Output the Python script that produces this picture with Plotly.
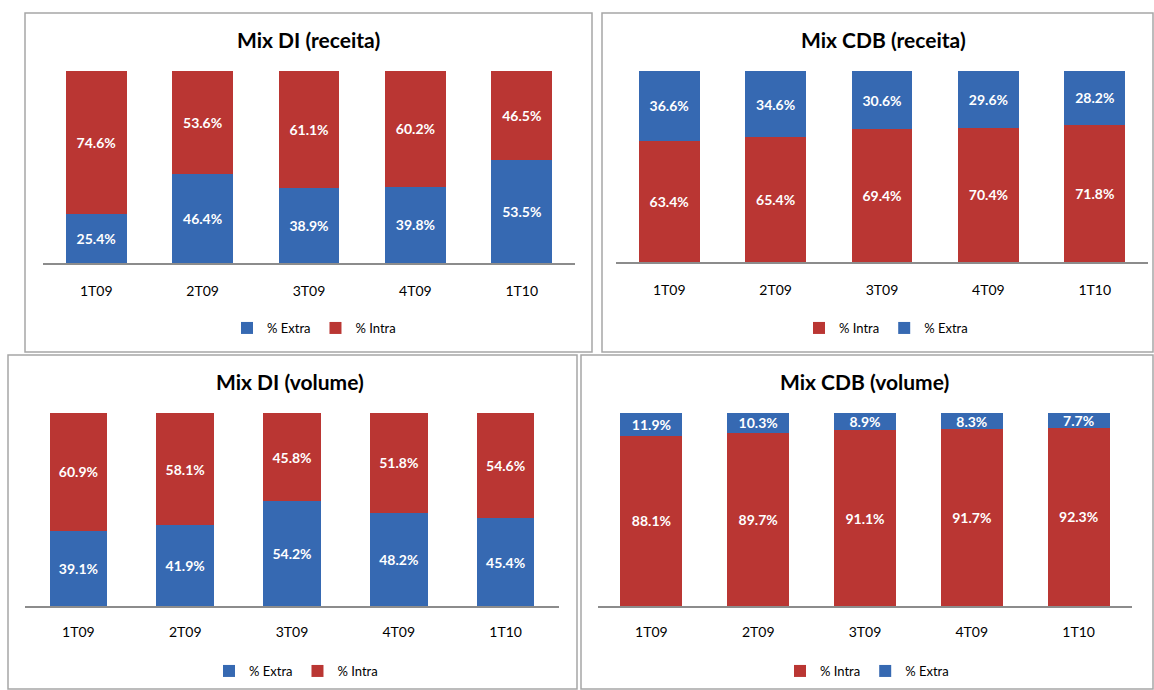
import plotly.graph_objects as go

W, H = 1154, 690

quarters = ["1T09", "2T09", "3T09", "4T09", "1T10"]

di_receita_extra = [25.4, 46.4, 38.9, 39.8, 53.5]
di_receita_intra = [74.6, 53.6, 61.1, 60.2, 46.5]

cdb_receita_intra = [63.4, 65.4, 69.4, 70.4, 71.8]
cdb_receita_extra = [36.6, 34.6, 30.6, 29.6, 28.2]

di_volume_extra = [39.1, 41.9, 54.2, 48.2, 45.4]
di_volume_intra = [60.9, 58.1, 45.8, 51.8, 54.6]

cdb_volume_intra = [88.1, 89.7, 91.1, 91.7, 92.3]
cdb_volume_extra = [11.9, 10.3, 8.9, 8.3, 7.7]

RED = "#BA3633"
BLUE = "#3669B2"
FONT = "Lato"

fig = go.Figure()

def px_x(x):
    return x / W

def px_y(y):
    return 1 - y / H

panels = [
    dict(title="Mix DI (receita)",
         series=[("% Extra", di_receita_extra, BLUE), ("% Intra", di_receita_intra, RED)],
         ax=(43, 575, 71, 263), tpos=(308, 39), lpos=(314, 328), border=(25, 13, 592, 352), w=0.57),
    dict(title="Mix CDB (receita)",
         series=[("% Intra", cdb_receita_intra, RED), ("% Extra", cdb_receita_extra, BLUE)],
         ax=(616, 1148, 71, 262), tpos=(883, 39), lpos=(886, 328), border=(602, 13, 1153, 352), w=0.57),
    dict(title="Mix DI (volume)",
         series=[("% Extra", di_volume_extra, BLUE), ("% Intra", di_volume_intra, RED)],
         ax=(25, 559, 413, 606), tpos=(290, 382), lpos=(296, 671), border=(8, 355, 577, 689), w=0.54),
    dict(title="Mix CDB (volume)",
         series=[("% Intra", cdb_volume_intra, RED), ("% Extra", cdb_volume_extra, BLUE)],
         ax=(598, 1132, 413, 606), tpos=(864, 382), lpos=(867, 671), border=(581, 355, 1153, 689), w=0.58),
]

layout_updates = {}
annotations = []
shapes = []

for i, p in enumerate(panels, start=1):
    xa = "x" if i == 1 else f"x{i}"
    ya = "y" if i == 1 else f"y{i}"
    lg = "legend" if i == 1 else f"legend{i}"
    for name, vals, color in p["series"]:
        fig.add_trace(go.Bar(
            x=quarters, y=vals, name=name, xaxis=xa, yaxis=ya, legend=lg,
            marker=dict(color=color, line=dict(width=0)),
            width=p["w"],
            texttemplate="%{y:.1f}%", textposition="inside",
            insidetextanchor="middle", constraintext="none",
            textfont=dict(family=FONT, size=14, color="white", weight="bold"),
            textangle=0,
        ))
    x0, x1, yt, yb = p["ax"]
    xkey = "xaxis" if i == 1 else f"xaxis{i}"
    ykey = "yaxis" if i == 1 else f"yaxis{i}"
    layout_updates[xkey] = dict(
        domain=[px_x(x0), px_x(x1)], anchor=ya, type="category",
        range=[-0.5, 4.5], showline=True, linecolor="#8C8C8C", linewidth=2,
        showgrid=False, ticks="", ticklabelstandoff=14 if i <= 2 else 12,
        tickfont=dict(family=FONT, size=14, color="#000000"), fixedrange=True,
    )
    layout_updates[ykey] = dict(
        domain=[px_y(yb), px_y(yt)], anchor=xa, range=[0, 100],
        visible=False, showgrid=False, zeroline=False, fixedrange=True,
    )
    lx, ly = p["lpos"]
    layout_updates[lg] = dict(
        orientation="h", x=px_x(lx), y=px_y(ly), xanchor="center", yanchor="middle",
        font=dict(family=FONT, size=13, color="#000000"), bgcolor="rgba(0,0,0,0)",
        itemwidth=30, tracegroupgap=0, traceorder="normal",
    )
    tx, ty = p["tpos"]
    annotations.append(dict(
        text=f"<b>{p['title']}</b>", x=px_x(tx), y=px_y(ty), xref="paper", yref="paper",
        xanchor="center", yanchor="middle", showarrow=False,
        font=dict(family=FONT, size=21, color="#000000"),
    ))
    bx0, by0, bx1, by1 = p["border"]
    shapes.append(dict(
        type="rect", xref="paper", yref="paper",
        x0=px_x(bx0), x1=px_x(bx1), y0=px_y(by1), y1=px_y(by0),
        line=dict(color="#A6A6A6", width=1.5), fillcolor="rgba(0,0,0,0)", layer="below",
    ))

fig.update_layout(
    width=W, height=H, margin=dict(l=0, r=0, t=0, b=0),
    paper_bgcolor="white", plot_bgcolor="white",
    barmode="stack", showlegend=True,
    annotations=annotations, shapes=shapes,
    font=dict(family=FONT),
    **layout_updates,
)

fig.write_html(
    "out.html",
    config={"displayModeBar": False},
    post_script="document.body.style.margin='0px';document.body.style.overflow='hidden';",
)
